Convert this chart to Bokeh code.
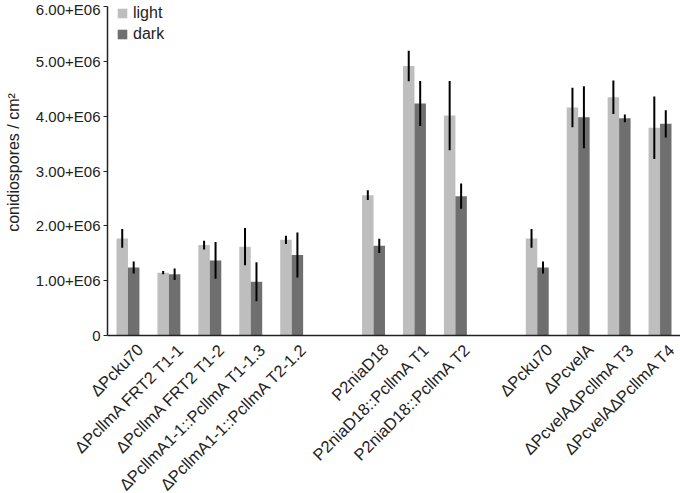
import math
from bokeh.plotting import figure
from bokeh.models import (Range1d, FixedTicker, ColumnDataSource, Legend, LegendItem)
from bokeh.core.properties import value
from bokeh.embed import file_html
from bokeh.resources import INLINE

# ---- data (conidiospores / cm²) ----
strains = [
    "ΔPcku70", "ΔPcllmA FRT2 T1-1", "ΔPcllmA FRT2 T1-2",
    "ΔPcllmA1-1::PcllmA T1-1.3", "ΔPcllmA1-1::PcllmA T2-1.2",
    "P2niaD18", "P2niaD18::PcllmA T1", "P2niaD18::PcllmA T2",
    "ΔPcku70", "ΔPcvelA", "ΔPcvelAΔPcllmA T3", "ΔPcvelAΔPcllmA T4",
]
group_sizes = [5, 3, 4]
light = [1.77e6, 1.145e6, 1.65e6, 1.62e6, 1.745e6,
         2.56e6, 4.915e6, 4.01e6,
         1.77e6, 4.16e6, 4.345e6, 3.79e6]
light_err = [0.17e6, 0.03e6, 0.08e6, 0.34e6, 0.075e6,
             0.09e6, 0.28e6, 0.63e6,
             0.17e6, 0.36e6, 0.305e6, 0.57e6]
dark = [1.24e6, 1.115e6, 1.37e6, 0.98e6, 1.467e6,
        1.636e6, 4.23e6, 2.54e6,
        1.24e6, 3.98e6, 3.96e6, 3.86e6]
dark_err = [0.11e6, 0.105e6, 0.335e6, 0.355e6, 0.41e6,
            0.13e6, 0.41e6, 0.23e6,
            0.11e6, 0.565e6, 0.07e6, 0.25e6]
y_ticks = [0, 1e6, 2e6, 3e6, 4e6, 5e6, 6e6]
y_tick_labels = ["0", "1.00+E06", "2.00+E06", "3.00+E06", "4.00+E06", "5.00+E06", "6.00+E06"]
y_title = "conidiospores / cm²"
series_names = ["light", "dark"]
colors = ["#bebebe", "#6f6f6f"]

# ---- slot positions: groups separated by one empty slot ----
slots = []
s = 0
for g in group_sizes:
    for _ in range(g):
        slots.append(s + 0.5)
        s += 1
    s += 1
n_slots = s - 1
y_max = y_ticks[-1]

BW = 0.28
OFF = 0.14
FONT = "Liberation Sans"
TXT = "#222222"

# ---- layout (pixels) ----
W, H = 680, 493
TOP = 6               # canvas top -> top of value axis
AX_LEFT = 107         # canvas left -> value axis
ZERO_Y = 335          # canvas top -> zero line
px_x = (W - AX_LEFT) / n_slots
px_y = (ZERO_Y - TOP) / y_max
x_start = -AX_LEFT / px_x
y_start = -(H - ZERO_Y) / px_y
y_end = y_max + TOP / px_y

p = figure(width=W, height=H, output_backend="svg", toolbar_location=None,
           x_range=Range1d(x_start, n_slots), y_range=Range1d(y_start, y_end),
           min_border_left=0, min_border_right=0, min_border_top=0,
           min_border_bottom=0)
p.outline_line_color = None
p.xgrid.visible = False
p.ygrid.visible = False

src = ColumnDataSource(dict(
    x=slots, name=strains,
    xl=[x - OFF for x in slots], xd=[x + OFF for x in slots],
    light=light, dark=dark,
    lt=[v + e for v, e in zip(light, light_err)], lb=[v - e for v, e in zip(light, light_err)],
    dt=[v + e for v, e in zip(dark, dark_err)], db=[v - e for v, e in zip(dark, dark_err)],
    xlab=[x + 12 / px_x for x in slots],
))

r1 = p.vbar(x="xl", top="light", width=BW, source=src, fill_color=colors[0], line_color=None)
r2 = p.vbar(x="xd", top="dark", width=BW, source=src, fill_color=colors[1], line_color=None)
p.segment(x0="xl", x1="xl", y0="lb", y1="lt", source=src, line_color="black", line_width=2)
p.segment(x0="xd", x1="xd", y0="db", y1="dt", source=src, line_color="black", line_width=2)

# value axis, pinned at x = 0
p.yaxis.fixed_location = 0
p.yaxis.bounds = (0, y_max)
p.yaxis.ticker = FixedTicker(ticks=y_ticks)
p.yaxis.major_label_overrides = {t: l for t, l in zip(y_ticks, y_tick_labels)}
p.yaxis.minor_tick_line_color = None
p.yaxis.major_tick_out = 4
p.yaxis.major_tick_in = 0
p.yaxis.major_tick_line_color = TXT
p.yaxis.major_label_standoff = 3
p.yaxis.major_label_text_font = FONT
p.yaxis.major_label_text_font_size = "15px"
p.yaxis.major_label_text_color = TXT

# category axis line, pinned at y = 0
p.xaxis.fixed_location = 0
p.xaxis.bounds = (0, n_slots)
p.xaxis.ticker = FixedTicker(ticks=[])
p.xaxis.major_tick_line_color = None
p.xaxis.minor_tick_line_color = None

for ax in (p.xaxis, p.yaxis):
    ax.axis_line_color = TXT
    ax.axis_line_width = 1.5

# rotated category labels
p.text(x="xlab", y=-11 / px_y, text="name", source=src, angle=math.pi / 4,
       text_align="right", text_baseline="middle",
       text_font=value(FONT), text_font_size="16.5px", text_color=TXT)

# value axis title
p.text(x=[x_start + 13 / px_x], y=[(ZERO_Y - 162) / px_y], text=[y_title],
       angle=math.pi / 2, text_align="center", text_baseline="middle",
       text_font=value(FONT), text_font_size="16px", text_color=TXT)

# legend
row_h, gap = 18, 3
legend_h = row_h * 2 + gap
legend_top = 4
legend = Legend(items=[LegendItem(label=series_names[0], renderers=[r1]),
                       LegendItem(label=series_names[1], renderers=[r2])],
                location=(AX_LEFT + 9, H - legend_top - legend_h),
                glyph_width=12, glyph_height=12, label_height=row_h, spacing=gap,
                padding=0, margin=0, label_standoff=5,
                label_text_font=FONT, label_text_font_size="16px",
                label_text_color=TXT,
                border_line_color=None, background_fill_alpha=0)
p.add_layout(legend, "center")

open("out.html", "w").write(file_html(p, INLINE))
